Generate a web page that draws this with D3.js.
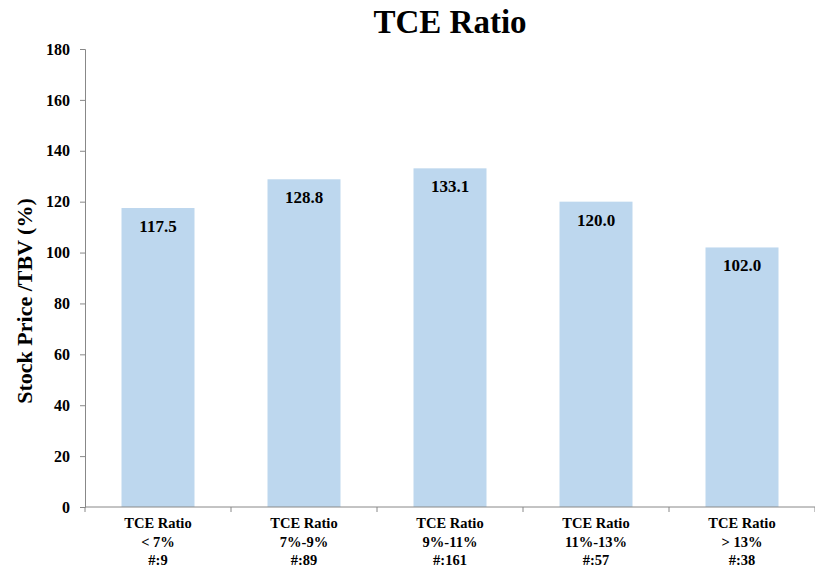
<!DOCTYPE html>
<html><head><meta charset="utf-8">
<script src="https://cdn.jsdelivr.net/npm/d3@7"></script>
<style>body{margin:0;background:#fff}</style>
</head><body>
<svg id="c" width="815" height="577"></svg>
<script>
const categories = ["TCE Ratio|< 7%|#:9","TCE Ratio|7%-9%|#:89","TCE Ratio|9%-11%|#:161","TCE Ratio|11%-13%|#:57","TCE Ratio|> 13%|#:38"];
const values = [117.5, 128.8, 133.1, 120.0, 102.0];
const yTicks = [0,20,40,60,80,100,120,140,160,180];
const title = "TCE Ratio";
const yLabel = "Stock Price /TBV (%)";

const svg = d3.select("#c");
const font = "'Liberation Serif', 'DejaVu Serif', serif";
const m = {left:85, right:0, top:49, bottom:70};
const W = 815, H = 577;
const x = d3.scaleBand().domain(categories).range([m.left, W - m.right]).paddingInner(0.5).paddingOuter(0.25);
const xb = d3.scaleBand().domain(categories).range([m.left, W - m.right]);
const y = d3.scaleLinear().domain([0,180]).range([507, 49]);

svg.append("text").attr("x", 450).attr("y", 33).attr("text-anchor","middle")
  .attr("font-family", font).attr("font-weight","bold").attr("font-size", 33).text(title);

// bars
svg.selectAll("rect.bar").data(values).enter().append("rect")
  .attr("x", (d,i)=>x(categories[i])).attr("width", x.bandwidth())
  .attr("y", d=>y(d)).attr("height", d=>y(0)-y(d)).attr("fill", "#BDD7EE");

svg.selectAll("text.val").data(values).enter().append("text")
  .attr("x", (d,i)=>x(categories[i]) + x.bandwidth()/2).attr("y", d=>y(d)+24)
  .attr("text-anchor","middle").attr("font-family", font).attr("font-weight","bold")
  .attr("font-size", 17).text(d=>d.toFixed(1));

// y axis
const ya = svg.append("g").attr("transform", `translate(${m.left},0)`)
  .call(d3.axisLeft(y).tickValues(yTicks).tickSize(5).tickPadding(10));
ya.select(".domain").attr("stroke","#888");
ya.selectAll(".tick line").attr("stroke","#888");
ya.selectAll("text").attr("font-family", font).attr("font-weight","bold").attr("font-size", 16).attr("fill","#000");

// x axis
const xa = svg.append("g").attr("transform", `translate(0,${y(0)})`);
xa.append("line").attr("x1", m.left).attr("x2", W).attr("y1",0).attr("y2",0).attr("stroke","#888");
const bounds = categories.map(c=>xb(c)).concat([W]);
xa.selectAll("line.tk").data(bounds).enter().append("line")
  .attr("x1", d=>d).attr("x2", d=>d).attr("y1",0).attr("y2",5).attr("stroke","#888");
categories.forEach(c=>{
  const lines = c.split("|");
  const t = xa.append("text").attr("text-anchor","middle").attr("font-family", font)
    .attr("font-weight","bold").attr("font-size", 14.5);
  lines.forEach((l,j)=>{
    t.append("tspan").attr("x", xb(c)+xb.bandwidth()/2).attr("y", 21 + j*18.5).text(l);
  });
});

svg.append("text").attr("transform", "translate(32,301) rotate(-90)").attr("text-anchor","middle")
  .attr("font-family", font).attr("font-weight","bold").attr("font-size", 22).text(yLabel);
</script>
</body></html>
